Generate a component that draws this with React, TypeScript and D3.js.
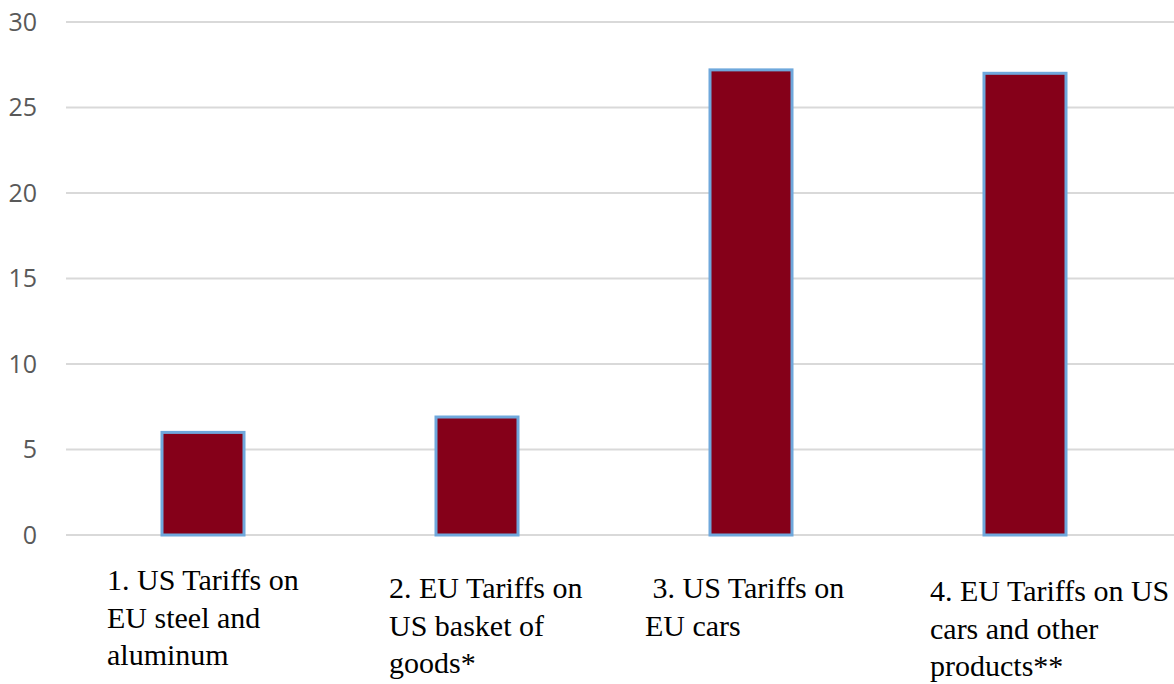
import React from "react";
import * as d3 from "d3";

const categories = ["c1", "c2", "c3", "c4"];
const values = [6, 6.9, 27.2, 27.0];
const labelLines = [
  ["1. US Tariffs on", "EU steel and", "aluminum"],
  ["2. EU Tariffs on", "US basket of", "goods*"],
  ["\u00a03. US Tariffs on", "EU cars"],
  ["4. EU Tariffs on US", "cars and other", "products**"],
];
const yTicks = [0, 5, 10, 15, 20, 25, 30];

// label placement tweaks (px) relative to band start / axis baseline
const labelDx = [41, 49, 31, 42];
const labelDy = [55, 63, 63, 66];

const W = 1174;
const H = 684;
const plotLeft = 66;
const plotRight = 1162;
const y0 = 535;
const yTop = 22;

export default function App() {
  const x = d3.scaleBand<string>().domain(categories).range([plotLeft, plotRight]).padding(0);
  const y = d3.scaleLinear().domain([0, 30]).range([y0, yTop]);
  const barW = 82;
  const lineH = 37.5;

  return (
    <div style={{ position: "absolute", left: 0, top: 0 }}>
      <svg width={W} height={H} style={{ display: "block", background: "#fff" }}>
        {yTicks.map((t) => (
          <g key={t}>
            <line x1={plotLeft} x2={W} y1={y(t)} y2={y(t)} stroke="#d9d9d9" strokeWidth={2} />
            <text
              x={37}
              y={y(t)}
              dy="0.35em"
              textAnchor="end"
              fontFamily="'Open Sans', sans-serif"
              fontSize={25}
              fill="#595959"
            >
              {t}
            </text>
          </g>
        ))}
        {categories.map((c, i) => {
          const cx = (x(c) as number) + x.bandwidth() / 2;
          return (
            <rect
              key={c}
              x={cx - barW / 2}
              y={y(values[i])}
              width={barW}
              height={y(0) - y(values[i])}
              fill="#850019"
              stroke="#6fa8dc"
              strokeWidth={3}
            />
          );
        })}
        {categories.map((c, i) => (
          <text
            key={c + "l"}
            fontFamily="'Liberation Serif', 'Times New Roman', serif"
            fontSize={30}
            fill="#000"
          >
            {labelLines[i].map((ln, j) => (
              <tspan key={j} x={(x(c) as number) + labelDx[i]} y={y0 + labelDy[i] + j * lineH}>
                {ln}
              </tspan>
            ))}
          </text>
        ))}
      </svg>
    </div>
  );
}
